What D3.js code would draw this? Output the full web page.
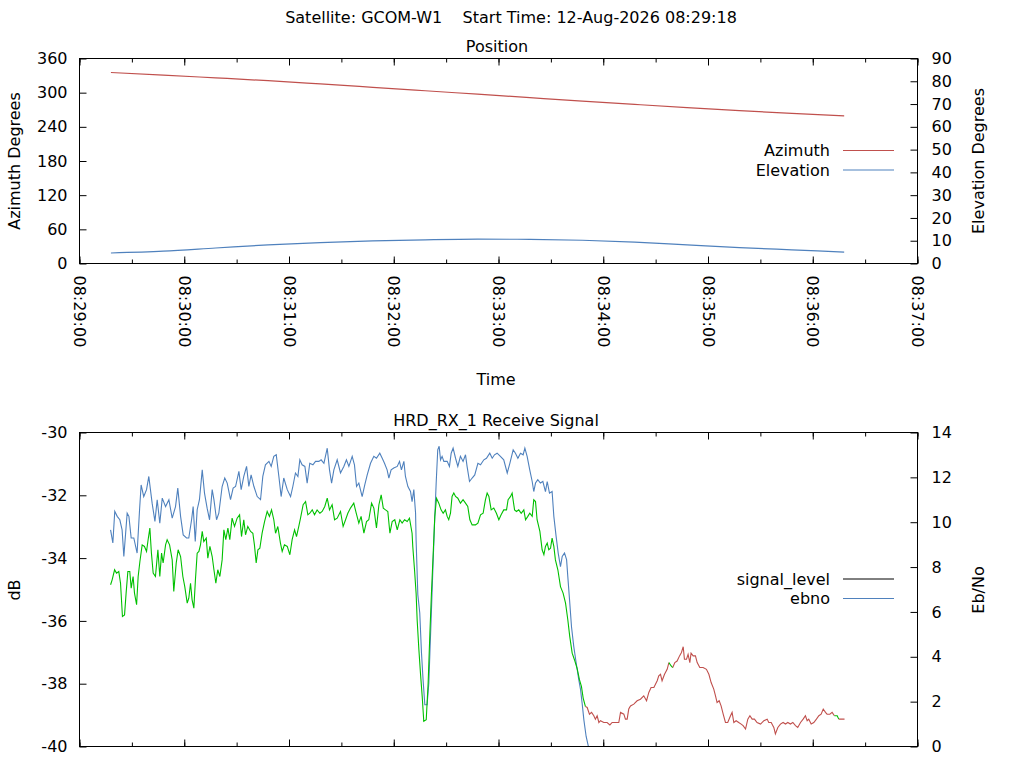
<!DOCTYPE html>
<html>
<head>
<meta charset="utf-8">
<script src="https://cdn.jsdelivr.net/npm/d3@7"></script>
<style>
  body { margin: 0; background: #fff; }
  text { font-family: "DejaVu Sans", sans-serif; font-size: 16px; fill: #000; }
</style>
</head>
<body>
<svg id="chart" width="1024" height="768"></svg>
<script>
const satellite = 'GCOM-W1';
const startTime = '12-Aug-2026 08:29:18';
const t0 = Date.UTC(2026, 7, 12, 8, 29, 0);   // 08:29:00, left edge of the time axis
const tEnd = Date.UTC(2026, 7, 12, 8, 37, 0);

// position samples: seconds after 08:29:00
const posSec = [18, 48, 78, 108, 138, 168, 198, 228, 258, 288, 318, 348, 378, 408, 438];
const azimuth = [335.4, 330.9, 326.0, 321.0, 315.3, 309.4, 303.4, 297.3, 291.2, 285.2, 279.4, 273.8, 268.5, 263.6, 259.1];
const elevation = [4.6, 5.4, 6.8, 8.2, 9.2, 9.9, 10.4, 10.7, 10.6, 10.2, 9.4, 8.2, 7.0, 6.0, 5.0];

const azTicks = [0, 60, 120, 180, 240, 300, 360];
const elTicks = [0, 10, 20, 30, 40, 50, 60, 70, 80, 90];
const dbTicks = [-40, -38, -36, -34, -32, -30];
const ebTicks = [0, 2, 4, 6, 8, 10, 12, 14];

// receive signal: [seconds after 08:29:00, dB]
const signalLevel = [[17.8,-33.10],[19.1,-33.52],[20.2,-32.51],[21.6,-32.67],[23.1,-32.78],[24.4,-33.10],[25.4,-33.95],[27.3,-32.57],[28.3,-32.67],[29.6,-33.36],[31.1,-33.36],[33.0,-33.84],[34.4,-32.46],[35.3,-31.67],[36.8,-32.04],[38.4,-31.82],[39.7,-31.40],[41.6,-32.25],[43.2,-32.83],[44.5,-32.14],[46.0,-32.89],[47.4,-32.09],[49.3,-32.36],[51.2,-32.14],[53.1,-32.73],[55.0,-32.36],[56.3,-31.77],[57.9,-32.67],[59.4,-33.26],[61.3,-33.36],[62.6,-33.36],[64.2,-32.78],[65.1,-32.36],[66.3,-33.47],[67.4,-32.46],[68.7,-32.14],[70.3,-31.19],[71.6,-31.93],[73.1,-32.41],[74.5,-32.78],[76.0,-31.82],[77.0,-32.14],[78.5,-32.78],[79.8,-32.57],[81.7,-31.72],[83.2,-31.45],[84.6,-31.61],[86.5,-32.14],[88.0,-31.77],[89.4,-31.72],[91.3,-31.24],[92.6,-31.82],[94.1,-31.40],[95.7,-31.08],[97.0,-31.72],[98.3,-31.35],[99.9,-31.72],[101.8,-32.04],[103.7,-32.14],[105.0,-31.40],[106.5,-31.03],[108.5,-30.92],[109.8,-31.08],[111.3,-30.76],[112.7,-30.71],[114.2,-31.40],[115.5,-32.04],[117.0,-31.45],[119.0,-31.82],[120.9,-32.04],[122.2,-31.72],[123.7,-31.29],[125.1,-31.40],[126.2,-30.87],[127.5,-31.03],[129.1,-31.08],[130.4,-31.61],[131.9,-30.98],[133.7,-31.03],[135.2,-30.92],[137.1,-30.92],[138.4,-30.87],[140.0,-30.98],[141.9,-30.50],[143.2,-31.19],[144.4,-31.61],[145.7,-31.19],[147.6,-30.87],[149.5,-31.29],[151.4,-31.08],[152.9,-30.87],[154.3,-31.08],[156.2,-30.76],[157.5,-31.03],[158.7,-31.72],[160.0,-31.61],[161.9,-32.04],[163.4,-31.67],[164.8,-31.35],[166.7,-30.98],[168.6,-30.76],[170.1,-30.82],[172.0,-30.66],[173.4,-30.82],[174.7,-30.98],[176.2,-31.19],[177.2,-31.45],[178.5,-31.19],[180.0,-31.13],[182.0,-31.08],[183.3,-30.92],[184.4,-31.19],[185.8,-30.92],[186.7,-31.40],[188.1,-31.72],[189.6,-31.88],[190.5,-32.20],[191.5,-31.82],[192.5,-32.57],[192.8,-33.42],[193.8,-35.17],[194.9,-35.75],[195.9,-37.03],[196.8,-37.88],[197.8,-38.67],[199.1,-38.67],[200.1,-37.98],[200.7,-37.03],[201.4,-35.96],[202.4,-34.37],[203.3,-32.99],[204.3,-31.61],[205.2,-30.55],[206.0,-30.44],[206.8,-30.87],[207.7,-30.76],[208.7,-30.92],[210.6,-30.92],[211.9,-31.08],[212.9,-30.66],[214.0,-30.50],[215.4,-30.82],[216.7,-31.08],[218.2,-30.76],[219.7,-30.92],[221.1,-30.71],[222.0,-31.08],[223.4,-31.56],[224.9,-31.45],[226.4,-31.35],[228.2,-30.98],[229.7,-31.03],[231.6,-30.87],[233.1,-30.82],[235.0,-30.66],[236.4,-30.82],[237.7,-30.71],[239.2,-30.66],[241.1,-30.76],[243.0,-30.87],[245.0,-31.29],[246.5,-30.98],[248.4,-30.55],[249.7,-30.66],[251.1,-30.82],[252.6,-30.66],[254.1,-30.71],[255.1,-30.50],[256.4,-30.76],[257.9,-31.19],[259.3,-31.56],[260.2,-31.88],[261.2,-31.61],[262.5,-31.50],[264.0,-31.61],[265.4,-31.56],[266.9,-31.88],[267.9,-31.56],[269.2,-31.93],[270.7,-31.88],[271.7,-32.67],[273.0,-33.31],[274.2,-33.84],[275.5,-34.27],[276.5,-33.95],[277.8,-33.84],[279.0,-34.05],[279.7,-34.59],[280.7,-35.33],[281.8,-36.18],[283.1,-36.81],[284.5,-37.34],[286.0,-37.88],[287.0,-38.19],[287.9,-38.62],[288.9,-39.15],[290.2,-39.68],[291.7,-40.05],[293.0,-40.40]];

// receive signal: [seconds after 08:29:00, Eb/No]
const ebno = [[17.8,7.21],[18.7,7.43],[20.1,7.88],[21.2,7.73],[22.5,7.80],[23.5,7.28],[24.6,5.80],[25.8,5.87],[26.7,6.84],[27.7,7.80],[28.8,7.80],[29.6,7.06],[30.7,7.58],[31.5,6.84],[32.7,6.32],[33.6,7.58],[34.6,8.25],[35.9,8.99],[37.2,8.92],[38.4,8.70],[39.3,9.22],[40.3,9.74],[41.2,8.62],[42.2,7.73],[43.5,7.58],[44.9,8.77],[46.0,7.58],[47.0,8.62],[47.9,8.18],[49.3,8.99],[50.2,9.22],[51.6,8.99],[53.1,8.32],[54.0,6.91],[55.4,8.18],[56.5,8.77],[57.9,8.47],[59.2,7.58],[60.3,7.13],[61.7,6.39],[62.6,6.61],[63.6,7.28],[64.5,6.54],[65.5,6.17],[66.4,7.43],[67.4,8.62],[68.4,8.70],[69.3,8.99],[70.3,9.59],[71.2,9.14],[72.6,9.29],[73.5,8.40],[74.7,8.92],[76.0,8.47],[77.0,7.88],[78.1,7.28],[79.2,7.88],[80.4,7.58],[81.7,8.32],[82.7,9.66],[83.8,9.22],[85.0,9.74],[86.1,9.22],[87.4,10.18],[88.8,9.81],[90.3,10.18],[91.7,10.33],[92.8,9.36],[94.1,10.11],[95.1,9.44],[96.4,9.81],[98.0,9.59],[99.3,9.51],[100.2,8.99],[101.2,8.18],[102.2,8.77],[103.3,8.84],[104.6,9.51],[106.0,10.03],[107.5,10.48],[108.8,10.26],[110.0,10.55],[111.3,10.11],[112.3,9.51],[113.6,9.81],[115.1,9.07],[116.1,8.70],[117.4,8.99],[119.0,8.92],[120.5,8.55],[121.8,9.22],[123.2,9.66],[124.3,9.36],[125.6,9.81],[126.6,10.18],[128.1,10.78],[129.5,10.92],[130.8,10.33],[131.9,10.40],[133.3,10.55],[134.6,10.33],[136.1,10.55],[137.7,10.40],[139.0,10.48],[140.5,10.70],[141.9,11.07],[143.2,10.55],[144.7,10.78],[146.1,10.11],[147.6,10.18],[149.5,10.48],[151.0,9.81],[152.4,10.11],[153.7,10.40],[155.2,10.63],[157.1,10.85],[158.5,10.40],[160.0,9.96],[161.3,10.26],[162.9,9.51],[164.4,10.03],[165.7,10.11],[167.3,10.85],[168.6,10.63],[170.1,9.74],[171.5,10.78],[172.8,11.22],[174.0,10.63],[175.3,10.55],[176.6,10.48],[177.8,9.51],[179.1,10.03],[180.6,10.11],[182.0,9.66],[183.5,10.11],[184.8,9.96],[186.2,10.11],[187.7,10.03],[189.0,10.18],[190.5,9.51],[190.9,8.92],[191.9,7.88],[192.8,6.84],[193.4,5.65],[194.4,4.31],[195.3,3.27],[196.3,2.23],[197.2,1.12],[198.6,1.19],[199.7,2.83],[200.7,5.05],[201.6,6.84],[202.6,8.62],[203.5,10.26],[204.5,11.07],[205.8,10.85],[207.1,10.55],[208.3,10.40],[209.6,10.55],[210.6,10.26],[211.5,10.11],[212.5,10.40],[213.4,11.15],[214.4,11.30],[215.4,11.15],[216.7,11.07],[218.2,10.85],[219.7,11.00],[221.1,10.85],[222.4,10.70],[223.6,10.11],[224.9,9.88],[226.8,9.88],[228.2,9.96],[229.7,10.33],[231.2,10.40],[232.5,11.00],[233.5,11.30],[234.5,11.15],[235.8,10.55],[237.3,10.63],[238.8,10.40],[240.2,10.11],[241.5,10.33],[243.0,10.55],[244.6,10.55],[245.5,11.00],[246.9,11.15],[247.8,11.30],[249.2,10.55],[250.3,10.48],[251.6,10.55],[253.0,10.40],[254.5,10.55],[255.5,10.11],[256.8,10.26],[257.9,10.40],[259.3,10.26],[260.2,11.00],[261.2,10.92],[262.1,10.11],[263.7,9.59],[265.0,8.77],[266.0,8.55],[266.9,8.92],[267.9,9.07],[268.8,8.77],[269.8,8.84],[270.7,9.29],[271.7,8.92],[272.6,8.32],[274.0,7.88],[275.5,7.13],[277.0,6.84],[278.4,6.39],[279.7,5.65],[280.8,4.91],[282.2,4.16],[283.5,3.87],[285.0,3.49],[286.4,2.97],[287.5,2.68],[288.5,2.16],[289.8,1.78],[290.8,1.74],[292.1,1.44],[293.3,1.52],[294.6,1.37],[295.5,1.22],[296.5,1.37],[297.5,1.07],[298.4,1.15],[300.3,1.07],[302.2,1.07],[303.8,0.96],[305.1,1.07],[307.0,1.07],[308.9,1.07],[309.9,1.52],[311.8,1.44],[312.7,1.22],[313.7,1.22],[314.6,1.67],[315.6,1.81],[317.5,1.89],[319.4,2.04],[321.3,2.11],[323.2,2.26],[324.8,2.04],[326.1,2.41],[327.4,2.63],[329.0,2.63],[330.9,2.93],[331.8,3.15],[332.8,3.22],[333.7,2.93],[335.1,3.22],[336.6,3.44],[337.6,3.74],[338.9,3.59],[339.8,3.52],[341.0,3.74],[342.3,3.81],[343.7,4.04],[344.8,4.19],[345.8,4.45],[346.5,3.89],[347.7,3.89],[348.6,4.11],[349.6,3.74],[350.3,4.16],[351.5,4.04],[352.8,4.04],[353.8,3.74],[355.3,3.52],[357.2,3.52],[359.1,3.44],[360.5,3.22],[361.8,2.85],[363.3,2.56],[364.3,2.26],[365.2,1.96],[366.4,2.04],[367.5,1.81],[368.7,1.44],[370.0,1.07],[371.3,1.07],[372.9,1.37],[373.8,1.52],[374.8,1.07],[376.1,1.15],[377.6,1.07],[379.0,1.00],[380.1,0.93],[381.5,0.78],[382.8,1.22],[384.0,1.37],[385.3,1.22],[386.6,1.22],[388.1,1.07],[390.1,1.00],[392.0,1.15],[393.9,1.22],[394.8,1.07],[396.2,1.07],[397.7,0.85],[398.6,0.56],[400.0,0.85],[401.5,1.00],[403.0,1.07],[404.4,1.00],[405.7,1.07],[407.2,1.00],[408.6,1.07],[410.1,0.93],[411.4,0.85],[413.0,1.07],[414.5,1.22],[415.8,1.37],[416.8,1.15],[417.7,1.22],[419.1,1.00],[420.6,1.07],[422.1,1.22],[423.5,1.37],[424.8,1.44],[426.0,1.67],[427.3,1.52],[428.2,1.44],[429.8,1.44],[431.1,1.52],[432.4,1.37],[434.0,1.37],[434.9,1.22],[436.8,1.22],[438.2,1.22]];

// stretches (seconds) where the Eb/No trace is drawn red
const ebnoUnlocked = [[289.9, 338.2], [340.2, 433.0], [435.5, 440]];

const colAz = '#c0504d', colEl = '#4f81bd', colLock = '#00c000';

const svg = d3.select('#chart');
const toDate = s => new Date(t0 + s * 1000);
const plain = d => String(d);   // gnuplot prints a plain hyphen for negatives

const x = d3.scaleUtc().domain([t0, tEnd]).range([79.5, 917.5]);

const top1 = 58.5, bot1 = 263.5, top2 = 432.5, bot2 = 746.5;
const yAz = d3.scaleLinear().domain([0, 360]).range([bot1, top1]);
const yEl = d3.scaleLinear().domain([0, 90]).range([bot1, top1]);
const yDb = d3.scaleLinear().domain([-40, -30]).range([bot2, top2]);
const yEb = d3.scaleLinear().domain([0, 14]).range([bot2, top2]);

function styleAxis(g) {
  g.select('.domain').remove();
  g.attr('font-family', null).attr('font-size', null);
  g.selectAll('line').attr('stroke', '#000');
}

function timeTicks(y0, y1, labels) {
  const minor = d3.utcSecond.every(30), major = d3.utcMinute.every(1);
  [[d3.axisBottom, y1], [d3.axisTop, y0]].forEach(([ax, yy]) => {
    svg.append('g').attr('transform', `translate(0,${yy})`)
      .call(ax(x).ticks(minor).tickSize(-4).tickFormat(''))
      .call(styleAxis);
    svg.append('g').attr('transform', `translate(0,${yy})`)
      .call(ax(x).ticks(major).tickSize(-7).tickFormat(''))
      .call(styleAxis);
  });
  if (labels) {
    svg.append('g').attr('transform', `translate(0,${y1})`)
      .call(d3.axisBottom(x).ticks(major).tickSize(0).tickFormat(d3.utcFormat('%H:%M:%S')))
      .call(styleAxis)
      .selectAll('text')
      .attr('transform', 'rotate(90)')
      .attr('x', 12).attr('y', 0).attr('dy', '0.36em')
      .style('text-anchor', 'start');
  }
}

function valueAxes(yl, yr, tl, tr) {
  svg.append('g').attr('transform', 'translate(79.5,0)')
    .call(d3.axisLeft(yl).tickValues(tl).tickFormat(plain).tickSize(-7).tickPadding(12))
    .call(styleAxis);
  svg.append('g').attr('transform', 'translate(917.5,0)')
    .call(d3.axisRight(yr).tickValues(tr).tickFormat(plain).tickSize(-7).tickPadding(14))
    .call(styleAxis);
}

function frame(y0, y1) {
  svg.append('rect').attr('x', 79.5).attr('y', y0)
    .attr('width', 838).attr('height', y1 - y0)
    .attr('fill', 'none').attr('stroke', '#000');
}

function legend(items, yStart) {
  items.forEach(([label, col], i) => {
    const yy = yStart + i * 19.5;
    svg.append('text').attr('x', 830).attr('y', yy).attr('dy', '0.36em')
      .attr('text-anchor', 'end').text(label);
    svg.append('line').attr('x1', 843).attr('x2', 894)
      .attr('y1', yy).attr('y2', yy).attr('stroke', col);
  });
}

// titles
svg.append('text').attr('x', 511).attr('y', 17).attr('dy', '0.36em')
  .attr('text-anchor', 'middle').style('white-space', 'pre')
  .text(`Satellite: ${satellite}    Start Time: ${startTime}`);
svg.append('text').attr('x', 497).attr('y', 46).attr('dy', '0.36em')
  .attr('text-anchor', 'middle').text('Position');
svg.append('text').attr('x', 496).attr('y', 420).attr('dy', '0.36em')
  .attr('text-anchor', 'middle').text('HRD_RX_1 Receive Signal');

function yLabel(txt, xx, yy) {
  svg.append('text').attr('transform', `translate(${xx},${yy}) rotate(-90)`)
    .attr('dy', '0.36em').attr('text-anchor', 'middle').text(txt);
}
yLabel('Azimuth Degrees', 14, 161);
yLabel('Elevation Degrees', 978, 161);
yLabel('dB', 14, 590);
yLabel('Eb/No', 978, 590);
svg.append('text').attr('x', 496).attr('y', 379).attr('dy', '0.36em')
  .attr('text-anchor', 'middle').text('Time');

const defs = svg.append('defs');
defs.append('clipPath').attr('id', 'clip1').append('rect')
  .attr('x', 79.5).attr('y', top1).attr('width', 838).attr('height', bot1 - top1);
defs.append('clipPath').attr('id', 'clip2').append('rect')
  .attr('x', 79.5).attr('y', top2).attr('width', 838).attr('height', bot2 - top2);

// --- position plot
const pos = posSec.map((s, i) => ({ t: toDate(s), az: azimuth[i], el: elevation[i] }));
const g1 = svg.append('g').attr('clip-path', 'url(#clip1)');
g1.append('path').datum(pos)
  .attr('d', d3.line().curve(d3.curveMonotoneX).x(d => x(d.t)).y(d => yAz(d.az)))
  .attr('fill', 'none').attr('stroke', colAz).attr('stroke-width', 1.2);
g1.append('path').datum(pos)
  .attr('d', d3.line().curve(d3.curveMonotoneX).x(d => x(d.t)).y(d => yEl(d.el)))
  .attr('fill', 'none').attr('stroke', colEl).attr('stroke-width', 1.2);

timeTicks(top1, bot1, true);
valueAxes(yAz, yEl, azTicks, elTicks);
frame(top1, bot1);
legend([['Azimuth', colAz], ['Elevation', colEl]], 150.5);

// --- receive signal plot
const g2 = svg.append('g').attr('clip-path', 'url(#clip2)');
g2.append('path').datum(signalLevel)
  .attr('d', d3.line().x(d => x(toDate(d[0]))).y(d => yDb(d[1])))
  .attr('fill', 'none').attr('stroke', colEl).attr('stroke-width', 1.1);

// split ebno into runs of equal lock state
const unlocked = t => ebnoUnlocked.some(([a, b]) => t >= a && t <= b);
const runs = [];
for (let i = 1; i < ebno.length; i++) {
  const red = unlocked((ebno[i - 1][0] + ebno[i][0]) / 2);
  const last = runs[runs.length - 1];
  if (last && last.red === red) last.pts.push(ebno[i]);
  else runs.push({ red, pts: [ebno[i - 1], ebno[i]] });
}
const ebLine = d3.line().x(d => x(toDate(d[0]))).y(d => yEb(d[1]));
g2.selectAll('path.eb').data(runs).enter().append('path')
  .attr('class', 'eb')
  .attr('d', r => ebLine(r.pts))
  .attr('fill', 'none')
  .attr('stroke', r => r.red ? colAz : colLock)
  .attr('stroke-width', 1.1);

timeTicks(top2, bot2, false);
valueAxes(yDb, yEb, dbTicks, ebTicks);
frame(top2, bot2);
legend([['signal_level', '#000'], ['ebno', colEl]], 579);
</script>
</body>
</html>
